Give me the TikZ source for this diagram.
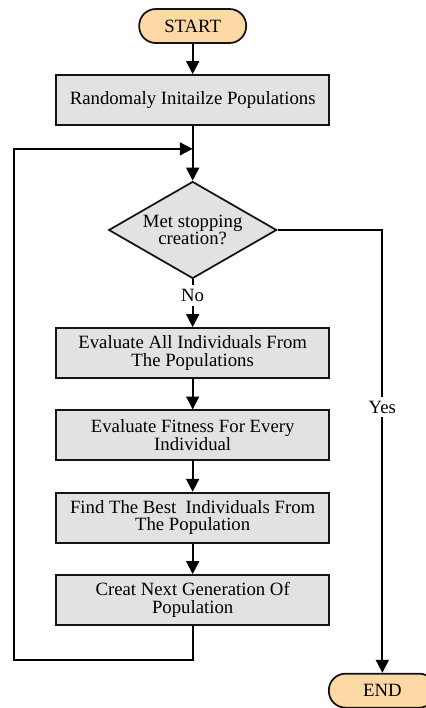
\documentclass[tikz,border=0pt]{standalone}
\usepackage{fontspec}
\setmainfont{Liberation Serif}
\usepackage{tikz}
\usetikzlibrary{shapes.geometric,arrows.meta,positioning,calc}
\definecolor{darkline}{RGB}{20,20,20}
\definecolor{startorange}{RGB}{252,216,164}
\definecolor{boxgray}{RGB}{226,226,226}

\begin{document}
\begin{tikzpicture}[node distance=2.47cm, font=\fontsize{16}{15}\selectfont]
\tikzstyle{terminal} = [rectangle, rounded corners=0.5cm, minimum width=3.21cm, minimum height=1.02cm, text centered, draw=darkline, line width=1.5pt, fill=startorange]
\tikzstyle{process} = [rectangle, minimum width=8.19cm, minimum height=1.5cm, align=center, draw=darkline, line width=1.5pt, fill=boxgray]
\tikzstyle{decision} = [diamond, aspect=1.73, minimum width=5.04cm, minimum height=2.91cm, inner sep=0pt, align=center, draw=darkline, line width=1.5pt, fill=boxgray]
\tikzstyle{arrow} = [line width=1.5pt, -{Triangle[length=11pt,width=11pt]}]

\useasboundingbox (0,0) rectangle (12.75,-21.24);

\node (Start) [terminal] at (5.78,-0.78) {START};
\node (InitPop) [process, below of=Start, node distance=2.22cm] {Randomaly Initailze Populations};
\node (StopCheck) [decision, below of=InitPop, node distance=3.9cm] {Met stopping\\creation?};
\node (EvalAll) [process, below of=StopCheck, node distance=3.69cm] {Evaluate All Individuals From\\The Populations};
\node (EvalFit) [process, below of=EvalAll] {Evaluate Fitness For Every\\Individual};
\node (FindBest) [process, below of=EvalFit] {Find The Best\ \ Individuals From\\The Population};
\node (NextGen) [process, below of=FindBest] {Creat Next Generation Of\\Population};
\node (End) [terminal, below of=NextGen, node distance=2.72cm, xshift=5.69cm] {END};

\coordinate [below=0.69cm of InitPop.south] (LoopIn);

\draw [arrow] (Start) -- (InitPop);
\draw [arrow] (InitPop) -- (StopCheck);
\draw [arrow] (StopCheck) -- node[fill=white, pos=0.34] {No} (EvalAll);
\draw [arrow] (EvalAll) -- (EvalFit);
\draw [arrow] (EvalFit) -- (FindBest);
\draw [arrow] (FindBest) -- (NextGen);

% loop back to the test
\draw [arrow] (NextGen.south) -- ++(0,-1.02) -- ++(-5.36,0) |- (LoopIn);

\draw [arrow] (StopCheck.east) -| node[fill=white, pos=0.7] {Yes} (End);
\end{tikzpicture}
\end{document}
